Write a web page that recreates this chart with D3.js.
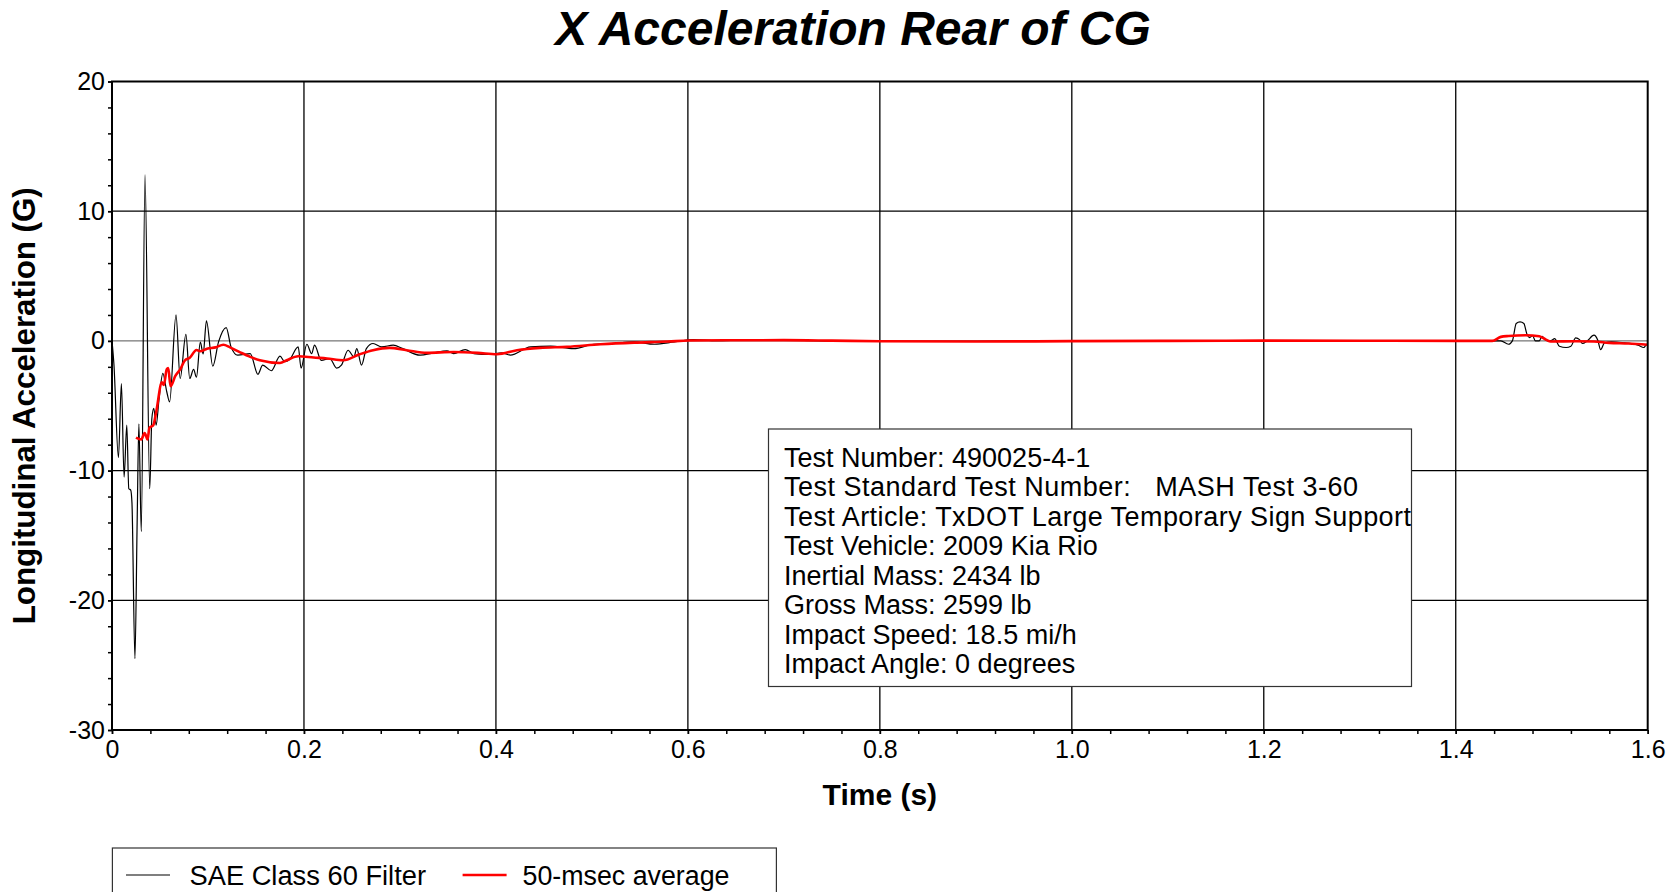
<!DOCTYPE html>
<html>
<head>
<meta charset="utf-8">
<script src="https://cdn.jsdelivr.net/npm/d3@7"></script>
<style>
  html, body { margin: 0; padding: 0; background: #fff; }
  svg { display: block; }
  text { font-family: "Liberation Sans", Arial, sans-serif; fill: #000; }
</style>
</head>
<body>
<svg id="chart" width="1679" height="892"></svg>
<script>
// ---------------- DATA ----------------
const chartTitle = "X Acceleration Rear of CG";
const xAxisTitle = "Time (s)";
const yAxisTitle = "Longitudinal Acceleration (G)";
const xMajorTicks = [0, 0.2, 0.4, 0.6, 0.8, 1.0, 1.2, 1.4, 1.6];
const xTickLabels = ["0", "0.2", "0.4", "0.6", "0.8", "1.0", "1.2", "1.4", "1.6"];
const yMajorTicks = [-30, -20, -10, 0, 10, 20];
const yTickLabels = ["-30", "-20", "-10", "0", "10", "20"];
const seriesNames = ["SAE Class 60 Filter", "50-msec average"];
const infoLines = [
  "Test Number: 490025-4-1",
  "Test Standard Test Number:   MASH Test 3-60",
  "Test Article: TxDOT Large Temporary Sign Support",
  "Test Vehicle: 2009 Kia Rio",
  "Inertial Mass: 2434 lb",
  "Gross Mass: 2599 lb",
  "Impact Speed: 18.5 mi/h",
  "Impact Angle: 0 degrees"
];

// SAE Class 60 filtered trace (time s, accel G)
const saeTime = [0.000,0.002,0.0067,0.0098,0.0126,0.0154,0.0175,0.0195,0.0208,0.0239,0.0262,0.0280,0.0305,0.0344,0.0393,0.0415,0.0435,0.046,0.049,0.053,0.057,0.060,0.0667,0.071,0.077,0.081,0.085,0.088,0.092,0.095,0.0984,0.105,0.111,0.119,0.124,0.131,0.144,0.152,0.157,0.166,0.175,0.180,0.185,0.194,0.197,0.203,0.208,0.211,0.218,0.227,0.234,0.239,0.246,0.252,0.255,0.260,0.265,0.272,0.281,0.293,0.303,0.321,0.335,0.349,0.356,0.368,0.377,0.394,0.406,0.415,0.436,0.457,0.481,0.502,0.520,0.544,0.565,0.586,0.606,0.63,0.66,0.70,0.75,0.80,0.90,1.00,1.10,1.20,1.30,1.40,1.438,1.447,1.455,1.459,1.463,1.467,1.471,1.474,1.477,1.480,1.483,1.487,1.490,1.493,1.496,1.500,1.503,1.508,1.515,1.520,1.525,1.529,1.532,1.537,1.544,1.548,1.551,1.555,1.562,1.576,1.583,1.590,1.596,1.599,1.600];
const saeAccel = [0,-1.8,-9.0,-3.3,-10.5,-6.5,-11.4,-11.5,-12.5,-24.5,-14,-6.4,-14.7,12.8,-11.4,-6,-5.2,-6.5,-4.5,-2.5,-3.9,-4.7,2.0,-2.9,0.5,-2.9,-2.2,-2.8,-0.1,-1.0,1.54,-1.95,-0.08,1.03,-0.46,-1.1,-0.98,-2.57,-1.87,-2.3,-1.18,-1.6,-1.44,-0.46,-2.1,-0.26,-0.98,-0.33,-1.5,-1.36,-2.1,-1.87,-0.72,-1.23,-0.6,-1.87,-0.6,-0.2,-0.46,-0.33,-0.6,-1.1,-0.92,-0.77,-0.98,-0.67,-0.98,-1.05,-0.92,-1.1,-0.46,-0.41,-0.6,-0.26,-0.2,-0.08,-0.26,-0.08,0.1,0.02,0.05,0.05,0.0,-0.03,-0.04,0,0.02,0.02,0.01,0,0,0,-0.26,0,1.34,1.46,1.34,0.56,0.26,0.4,0.0,0.0,0.36,0.1,0.0,0.05,0.18,-0.41,-0.51,-0.41,0.23,0.1,-0.2,0.0,0.44,0.05,-0.67,-0.15,-0.08,-0.15,-0.2,-0.33,-0.51,-0.26,-0.28];

// 50-msec moving average trace
const avgTime = [0.025,0.0305,0.034,0.037,0.039,0.043,0.046,0.052,0.054,0.057,0.0586,0.061,0.066,0.071,0.076,0.081,0.088,0.092,0.099,0.108,0.116,0.123,0.134,0.144,0.154,0.175,0.182,0.194,0.210,0.224,0.241,0.258,0.272,0.289,0.307,0.328,0.356,0.381,0.401,0.422,0.446,0.474,0.509,0.544,0.579,0.601,0.65,0.70,0.75,0.80,0.90,1.00,1.10,1.20,1.30,1.40,1.438,1.447,1.455,1.473,1.487,1.494,1.499,1.525,1.544,1.560,1.580,1.600];
const avgAccel = [-7.45,-7.6,-7.1,-7.6,-6.7,-6.5,-5.5,-3.2,-3.4,-2.2,-2.1,-3.5,-2.7,-2.2,-1.5,-1.3,-0.7,-0.8,-0.6,-0.5,-0.3,-0.5,-0.9,-1.23,-1.49,-1.7,-1.49,-1.18,-1.28,-1.36,-1.49,-1.03,-0.72,-0.54,-0.72,-0.92,-0.85,-0.92,-1.03,-0.72,-0.54,-0.46,-0.26,-0.13,-0.05,0.03,0.05,0.06,0.02,-0.03,-0.05,-0.02,0.0,0.02,0.01,0.0,0.0,0.31,0.38,0.44,0.36,0.1,-0.05,-0.03,-0.05,-0.15,-0.2,-0.3];

// ---------------- DRAW ----------------
const svg = d3.select("#chart");
const plot = { left: 112, right: 1647.7, top: 81.5, bottom: 730 };

const x = d3.scaleLinear().domain([0, 1.6]).range([plot.left, plot.right]);
const y = d3.scaleLinear().domain([-30, 20]).range([plot.bottom, plot.top]);

const xMinor = d3.range(0, 1.6001, 0.04).map(v => +v.toFixed(2));
const yMinor = d3.range(-30, 20.001, 2);

// clip
svg.append("defs").append("clipPath").attr("id", "clip")
  .append("rect").attr("x", plot.left).attr("y", plot.top)
  .attr("width", plot.right - plot.left).attr("height", plot.bottom - plot.top);

// grid
const grid = svg.append("g");
grid.selectAll("line.vg").data(xMajorTicks.filter(d => d > 0 && d < 1.6)).enter()
  .append("line").attr("x1", d => x(d)).attr("x2", d => x(d))
  .attr("y1", plot.top).attr("y2", plot.bottom)
  .attr("stroke", "#000").attr("stroke-width", 1.3);
grid.selectAll("line.hg").data(yMajorTicks.filter(d => d > -30 && d < 20)).enter()
  .append("line").attr("x1", plot.left).attr("x2", plot.right)
  .attr("y1", d => y(d)).attr("y2", d => y(d))
  .attr("stroke", d => d === 0 ? "#555" : "#000")
  .attr("stroke-width", d => d === 0 ? 1 : 1.3);

// traces
const saeData = saeTime.map((t, i) => [t, saeAccel[i]]);
const avgData = avgTime.map((t, i) => [t, avgAccel[i]]);
const line = d3.line().x(d => x(d[0])).y(d => y(d[1])).curve(d3.curveMonotoneX);

const traces = svg.append("g").attr("clip-path", "url(#clip)");
traces.append("path").datum(saeData).attr("d", line)
  .attr("fill", "none").attr("stroke", "#000").attr("stroke-width", 1.2)
  .attr("stroke-linejoin", "round");
traces.append("path").datum(avgData).attr("d", line)
  .attr("fill", "none").attr("stroke", "#ff0000").attr("stroke-width", 2.6)
  .attr("stroke-linejoin", "round");

// axes
const xAxis = d3.axisBottom(x).tickValues(xMajorTicks)
  .tickFormat((d, i) => xTickLabels[i]).tickSize(4).tickPadding(6);
const xAxisMinor = d3.axisBottom(x).tickValues(xMinor).tickFormat("").tickSize(4);
const yAxis = d3.axisLeft(y).tickValues(yMajorTicks)
  .tickFormat((d, i) => yTickLabels[i]).tickSize(4).tickPadding(3);
const yAxisMinor = d3.axisLeft(y).tickValues(yMinor).tickFormat("").tickSize(4);

function styleAxis(g) {
  g.select(".domain").remove();
  g.selectAll("line").attr("stroke", "#000").attr("stroke-width", 1.5);
  g.selectAll("text").style("font-family", '"Liberation Sans", Arial, sans-serif')
    .style("font-size", "25px").attr("fill", "#000");
}
svg.append("g").attr("transform", `translate(0,${plot.bottom})`).call(xAxisMinor).call(styleAxis);
svg.append("g").attr("transform", `translate(0,${plot.bottom})`).call(xAxis).call(styleAxis);
svg.append("g").attr("transform", `translate(${plot.left},0)`).call(yAxisMinor).call(styleAxis);
svg.append("g").attr("transform", `translate(${plot.left},0)`).call(yAxis).call(styleAxis);

// frame
svg.append("rect").attr("x", plot.left).attr("y", plot.top)
  .attr("width", plot.right - plot.left).attr("height", plot.bottom - plot.top)
  .attr("fill", "none").attr("stroke", "#000").attr("stroke-width", 2);

// info box
const infoBox = { x: 768.5, y: 429, w: 643, h: 257.5, textX: 784, base: 466.7, step: 29.5 };
const info = svg.append("g");
info.append("rect").attr("x", infoBox.x).attr("y", infoBox.y).attr("width", infoBox.w).attr("height", infoBox.h)
  .attr("fill", "#fff").attr("stroke", "#333").attr("stroke-width", 1.2);
const infoFit = { 1: 574, 2: 627 };
info.selectAll("text").data(infoLines).enter().append("text")
  .attr("x", infoBox.textX).attr("y", (d, i) => infoBox.base + i * infoBox.step)
  .attr("xml:space", "preserve")
  .style("font-size", "27px").style("white-space", "pre")
  .each(function (d, i) {
    if (infoFit[i]) d3.select(this).attr("textLength", infoFit[i]).attr("lengthAdjust", "spacing");
  })
  .text(d => d);

// titles
svg.append("text").attr("x", 853).attr("y", 45).attr("text-anchor", "middle")
  .style("font-size", "48px").style("font-weight", "bold").style("font-style", "italic")
  .text(chartTitle);
svg.append("text").attr("x", (plot.left + plot.right) / 2).attr("y", 805).attr("text-anchor", "middle")
  .style("font-size", "30px").style("font-weight", "bold").text(xAxisTitle);
svg.append("text").attr("transform", `translate(35,${(plot.top + plot.bottom) / 2}) rotate(-90)`)
  .attr("text-anchor", "middle").style("font-size", "31px").style("font-weight", "bold")
  .attr("textLength", 437).attr("lengthAdjust", "spacingAndGlyphs")
  .text(yAxisTitle);

// legend
const leg = svg.append("g");
leg.append("rect").attr("x", 112.4).attr("y", 848).attr("width", 664).attr("height", 60)
  .attr("fill", "#fff").attr("stroke", "#333").attr("stroke-width", 1.2);
const legColors = ["#000", "#ff0000"];
const legWidths = [1.2, 2.6];
const legLineX = [126, 462.6];
const legTextX = [189.5, 522.5];
const legTextW = [236.5, 207];
seriesNames.forEach((name, i) => {
  leg.append("line").attr("x1", legLineX[i]).attr("x2", legLineX[i] + 44)
    .attr("y1", 875).attr("y2", 875)
    .attr("stroke", legColors[i]).attr("stroke-width", legWidths[i]);
  leg.append("text").attr("x", legTextX[i]).attr("y", 884.5)
    .style("font-size", "27px")
    .attr("textLength", legTextW[i]).attr("lengthAdjust", "spacingAndGlyphs")
    .text(name);
});
</script>
</body>
</html>
